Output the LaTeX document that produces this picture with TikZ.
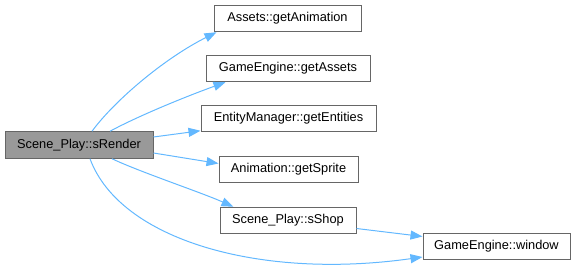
\documentclass[tikz,border=0pt]{standalone}
\usepackage{fontspec}
\setmainfont{Liberation Sans}
\usetikzlibrary{arrows.meta}
\definecolor{edgeblue}{HTML}{63B8FF}
\definecolor{boxborder}{HTML}{666666}
\definecolor{rootfill}{HTML}{999999}
\tikzset{
  fn/.style={draw=boxborder, line width=1pt, fill=white, rectangle,
    minimum height=26.5pt, inner sep=0pt,
    font=\fontsize{12.8}{15}\selectfont},
  rootfn/.style={fn, fill=rootfill},
  call/.style={draw=edgeblue, line width=1pt,
    -{Triangle[length=12pt,width=9pt]}},
}
\begin{document}
\begin{tikzpicture}[x=1pt,y=-1pt]
  \useasboundingbox (0,0) rectangle (576,272);
  % functions
  \node[rootfn, minimum width=148pt] (render)   at (79,145)    {Scene\_Play::sRender};
  \node[fn, minimum width=147pt]     (anim)     at (287.5,18.5) {Assets::getAnimation};
  \node[fn, minimum width=164pt]     (assets)   at (288,68.5)  {GameEngine::getAssets};
  \node[fn, minimum width=175pt]     (entities) at (288.5,118.5) {EntityManager::getEntities};
  \node[fn, minimum width=139pt]     (sprite)   at (288.5,169.5) {Animation::getSprite};
  \node[fn, minimum width=136pt]     (shop)     at (288,220.5) {Scene\_Play::sShop};
  \node[fn, minimum width=147pt]     (window)   at (496.5,246.5) {GameEngine::window};
  % calls
  \draw[call] ([xshift=13pt]render.north) .. controls (115,100) and (165,58) .. ([xshift=3pt]anim.south west);
  \draw[call] ([xshift=31pt]render.north) .. controls (140,115) and (190,95) .. ([xshift=20pt]assets.south west);
  \draw[call] ([yshift=8pt]render.east) -- ([yshift=1.5pt]entities.south west);
  \draw[call] ([yshift=-8pt]render.east) -- ([yshift=6pt]sprite.west);
  \draw[call] ([xshift=33pt]render.south) .. controls (140,172) and (200,192) .. ([xshift=14pt]shop.north west);
  \draw[call] ([xshift=11pt]render.south) .. controls (120,240) and (260,280) .. ([yshift=-10.5pt]window.west);
  \draw[call] ([yshift=-8pt]shop.east) -- ([yshift=10pt]window.west);
\end{tikzpicture}
\end{document}
